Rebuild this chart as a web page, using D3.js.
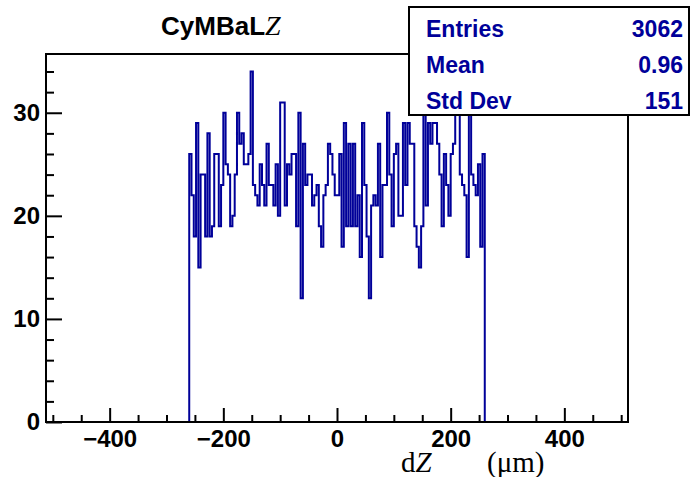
<!DOCTYPE html>
<html><head><meta charset="utf-8">
<script src="https://cdn.jsdelivr.net/npm/d3@7"></script>
<style>body{margin:0;background:#fff} svg{display:block}</style>
</head><body>
<script>
// ---- data ----
const binLow = -260;
const binWidth = 4;
const counts = [
  26,22,18,29,15,24,24,18,28,18,19,26,26,19,23,30,25,24,19,20,24,30,27,28,25,
  25,26,34,23,22,21,25,23,21,27,23,23,21,25,20,31,31,
  21,25,24,26,26,19,30,12,27,23,24,24,21,22,23,19,17,22,23,27,26,24,
  22,22,26,17,29,19,27,19,27,19,22,16,29,23,18,12,21,22,21,27,16,23,23,30,
  24,19,26,27,20,20,29,23,29,27,27,19,17,15,19,31,21,29,27,29,
  29,27,24,19,26,23,20,26,27,31,30,24,23,22,16,31,24,23,22,25,17,26
];
const xMajorTicks = [-400,-200,0,200,400];
const xMinorTicks = [-500,-450,-350,-300,-250,-150,-100,-50,50,100,150,250,300,350,450,500];
const yMajorTicks = [0,10,20,30];
const yMinorTicks = [2,4,6,8,12,14,16,18,22,24,26,28,32,34];
const statsLabels = ["Entries","Mean","Std Dev"];
const statsValues = ["3062","0.96","151"];
const titleMain = "CyMBaL";
const titleVar = "Z";

// ---- drawing ----
const W = 691, H = 477;
const sans = "'Liberation Sans', Arial, Helvetica, sans-serif";
const serif = "'Liberation Serif', 'Times New Roman', serif";
const blue = "#000099";

const svg = d3.select("body").append("svg").attr("width", W).attr("height", H);
svg.append("rect").attr("width", W).attr("height", H).attr("fill", "#fff");

const x = d3.scaleLinear().domain([-512, 512]).range([46, 628]);
const y = d3.scaleLinear().domain([0, 35.7]).range([422, 54]);

// histogram outline
const pts = [[binLow, 0]];
counts.forEach((c, i) => {
  pts.push([binLow + i * binWidth, c]);
  pts.push([binLow + (i + 1) * binWidth, c]);
});
pts.push([binLow + counts.length * binWidth, 0]);
const line = d3.line().x(d => x(d[0])).y(d => y(d[1]));
svg.append("path").attr("d", line(pts))
  .attr("fill", "none").attr("stroke", blue).attr("stroke-width", 2)
  .attr("stroke-linejoin", "miter");

// axes
const gx = svg.append("g").attr("transform", "translate(0,422)");
gx.call(d3.axisBottom(x).tickValues(xMajorTicks).tickSize(-14).tickPadding(8));
const gxm = svg.append("g").attr("transform", "translate(0,422)");
gxm.call(d3.axisBottom(x).tickValues(xMinorTicks).tickSize(-7).tickFormat(""));

const gy = svg.append("g").attr("transform", "translate(46,0)");
gy.call(d3.axisLeft(y).tickValues(yMajorTicks).tickSize(-16).tickPadding(6));
const gym = svg.append("g").attr("transform", "translate(46,0)");
gym.call(d3.axisLeft(y).tickValues(yMinorTicks).tickSize(-8).tickFormat(""));

[gx, gxm, gy, gym].forEach(g => {
  g.select(".domain").remove();
  g.selectAll(".tick line").attr("stroke", "#000").attr("stroke-width", 2);
  g.selectAll(".tick text").attr("fill", "#000")
    .style("font-family", sans).style("font-weight", "bold").style("font-size", "24px");
});

// frame
svg.append("rect").attr("x", 46).attr("y", 54).attr("width", 582).attr("height", 368)
  .attr("fill", "none").attr("stroke", "#000").attr("stroke-width", 2);

// title
const tt = svg.append("text").attr("x", 161).attr("y", 35)
  .style("font-size", "26px").attr("fill", "#000");
tt.append("tspan").text(titleMain).style("font-family", sans).style("font-weight", "bold");
tt.append("tspan").text(titleVar).style("font-family", serif).style("font-style", "italic").style("font-size", "28px");

// x axis title
const xt = svg.append("text").attr("x", 401).attr("y", 472)
  .style("font-family", serif).style("font-size", "29px").attr("fill", "#000");
xt.append("tspan").text("d");
xt.append("tspan").text("Z").style("font-style", "italic");
xt.append("tspan").attr("x", 487).text("(\u03bcm)");

// stats box
svg.append("rect").attr("x", 409).attr("y", 7).attr("width", 280).attr("height", 108)
  .attr("fill", "#fff").attr("stroke", "#000").attr("stroke-width", 2);
const sg = svg.append("g").style("font-family", sans).style("font-weight", "bold")
  .style("font-size", "23px").attr("fill", blue);
sg.selectAll("text.lab").data(statsLabels).join("text").attr("class", "lab")
  .attr("x", 426).attr("y", (d, i) => 37 + i * 36).text(d => d);
sg.selectAll("text.val").data(statsValues).join("text").attr("class", "val")
  .attr("x", 683).attr("y", (d, i) => 37 + i * 36).attr("text-anchor", "end").text(d => d);
</script>
</body></html>
